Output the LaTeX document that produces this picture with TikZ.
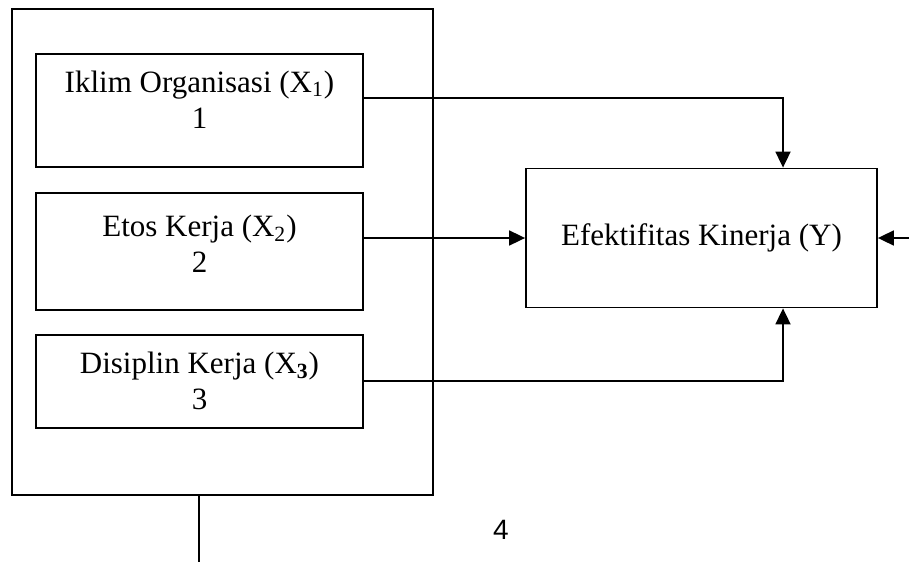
\documentclass[tikz,border=0pt]{standalone}
\usepackage{fontspec}
\setmainfont{Liberation Serif}
\newfontfamily\pagefont{Liberation Sans}
\usetikzlibrary{arrows.meta,positioning,calc}

\begin{document}
\begin{tikzpicture}[
  x=0.5pt, y=-0.5pt,
  font=\fontsize{15.5}{18}\selectfont,
  box/.style={draw, line width=0.9pt, align=center, inner xsep=0pt, minimum width=163.5pt},
  bigbox/.style={draw, line width=0.9pt, inner sep=0pt},
  arr/.style={-{Triangle[length=8pt,width=7.5pt]}, line width=0.9pt},
  ln/.style={line width=0.9pt}
]
\useasboundingbox (0,0) rectangle (909,562);
% variables X1..X3 inside the frame
\node[bigbox, minimum width=210.5pt, minimum height=243pt] (frame) at (222.5,252) {};
\node[box, inner ysep=8.3pt, text depth=11.2pt] (x1) at (199.5,110.5) {Iklim Organisasi (X\textsubscript{1})\\1};
\node[box, inner ysep=11.3pt, text depth=7.2pt, below=12pt of x1] (x2) {Etos Kerja (X\textsubscript{2})\\2};
\node[box, inner ysep=8.8pt, text depth=0.2pt, below=11.5pt of x2] (x3) {Disiplin Kerja (X\textsubscript{\textbf{3}})\\3};
% dependent variable
\node[bigbox, minimum width=175.5pt, minimum height=69.5pt] (ef) at (701.5,238) {Efektifitas Kinerja (Y)};
\coordinate (rin) at (909,238);
\coordinate (bot) at (199,562);
\node[font=\pagefont\fontsize{14}{16}\selectfont] (pg) at (501,530) {4};
\draw[arr] ([yshift=6.25pt]x1.east) -| ([xshift=40.75pt]ef.north);
\draw[arr] (x2.east |- ef.west) -- (ef.west);
\draw[arr] (x3.east) -| ([xshift=40.75pt]ef.south);
\draw[arr] (rin) -- (ef.east);
\draw[ln] (bot |- frame.south) -- (bot);
\end{tikzpicture}
\end{document}
